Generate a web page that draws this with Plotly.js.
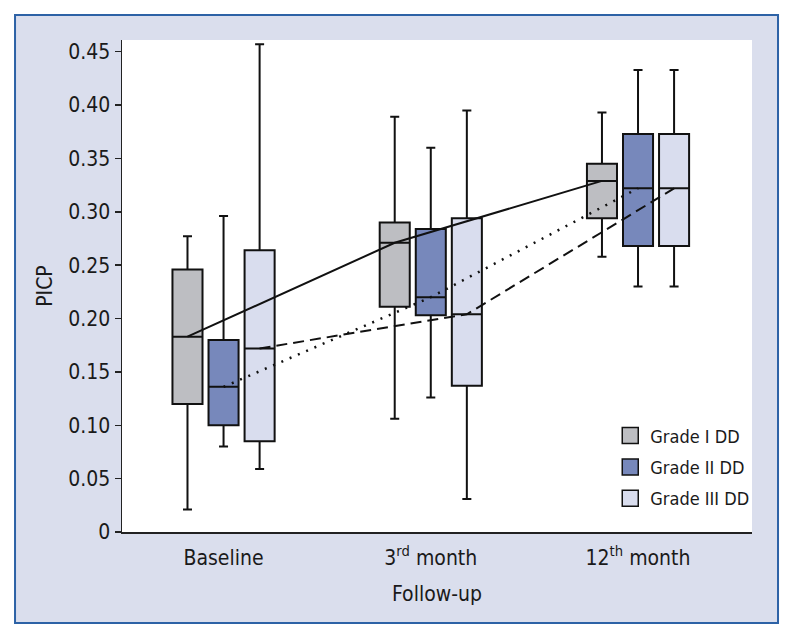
<!DOCTYPE html>
<html>
<head>
<meta charset="utf-8">
<script src="https://cdn.plot.ly/plotly-3.0.1.min.js"></script>
<style>html,body{margin:0;padding:0;background:#fff;}#chart{width:794px;height:640px;}</style>
</head>
<body>
<div id="chart"></div>
<script>
// ---- data ----
var categories = ["Baseline", "3<sup>rd</sup> month", "12<sup>th</sup> month"];
var seriesNames = ["Grade I DD", "Grade II DD", "Grade III DD"];

var g1Lower  = [0.021, 0.106, 0.258];
var g1Q1     = [0.120, 0.211, 0.294];
var g1Median = [0.183, 0.271, 0.329];
var g1Q3     = [0.246, 0.290, 0.345];
var g1Upper  = [0.277, 0.389, 0.393];

var g2Lower  = [0.080, 0.126, 0.230];
var g2Q1     = [0.100, 0.203, 0.268];
var g2Median = [0.136, 0.220, 0.322];
var g2Q3     = [0.180, 0.284, 0.373];
var g2Upper  = [0.296, 0.360, 0.433];

var g3Lower  = [0.059, 0.031, 0.230];
var g3Q1     = [0.085, 0.137, 0.268];
var g3Median = [0.172, 0.204, 0.322];
var g3Q3     = [0.264, 0.294, 0.373];
var g3Upper  = [0.457, 0.395, 0.433];

var yTickVals = [0, 0.05, 0.10, 0.15, 0.20, 0.25, 0.30, 0.35, 0.40, 0.45];
var yTickText = ["0", "0.05", "0.10", "0.15", "0.20", "0.25", "0.30", "0.35", "0.40", "0.45"];

// ---- styling ----
var FONT = "'Liberation Sans Narrow', 'Arial Narrow', 'DejaVu Sans Condensed', 'Liberation Sans', sans-serif";
var fills = ["#bdbec2", "#7788bb", "#d9ddee"];
var dashes = ["solid", "2px,7px", "11px,6px"];
var lineWidths = [2, 2.5, 2];
var offsets = [-0.174, 0, 0.174];
var boxWidth = 0.145;

var groups = [
  {lo: g1Lower, q1: g1Q1, med: g1Median, q3: g1Q3, hi: g1Upper},
  {lo: g2Lower, q1: g2Q1, med: g2Median, q3: g2Q3, hi: g2Upper},
  {lo: g3Lower, q1: g3Q1, med: g3Median, q3: g3Q3, hi: g3Upper}
];

var idx = categories.map(function (c, i) { return i; });
var traces = [];

groups.forEach(function (g, k) {
  var xs = idx.map(function (i) { return i + offsets[k]; });
  traces.push({
    type: "box",
    x: xs,
    q1: g.q1, median: g.med, q3: g.q3,
    lowerfence: g.lo, upperfence: g.hi,
    width: boxWidth,
    whiskerwidth: 0.3,
    fillcolor: fills[k],
    line: {color: "#111111", width: 2},
    showlegend: false,
    hoverinfo: "skip"
  });
});

groups.forEach(function (g, k) {
  var xs = idx.map(function (i) { return i + offsets[k]; });
  traces.push({
    type: "scatter",
    mode: "lines",
    x: xs,
    y: g.med,
    line: {color: "#111111", width: lineWidths[k], dash: dashes[k]},
    showlegend: false,
    hoverinfo: "skip"
  });
});

// legend entries
groups.forEach(function (g, k) {
  traces.push({
    type: "scatter",
    mode: "markers",
    x: [null], y: [null],
    name: seriesNames[k],
    legendgroup: "g" + k,
    marker: {symbol: "square", size: 16, color: fills[k], line: {color: "#111111", width: 1.5}},
    showlegend: true
  });
});

var layout = {
  width: 794, height: 640,
  margin: {l: 122, r: 42, t: 40, b: 108},
  paper_bgcolor: "#ffffff",
  plot_bgcolor: "#ffffff",
  font: {family: FONT, size: 21, color: "#1a1a1a"},
  showlegend: true,
  legend: {
    x: 0.775, y: 0.233, xanchor: "left", yanchor: "top",
    bgcolor: "rgba(255,255,255,0)",
    font: {family: FONT, size: 18, color: "#1a1a1a"},
    tracegroupgap: 5,
    itemwidth: 30
  },
  xaxis: {
    range: [-0.49, 2.55],
    tickmode: "array",
    tickvals: idx,
    ticktext: categories,
    ticks: "",
    showline: true, linecolor: "#222222", linewidth: 2,
    showgrid: false, zeroline: false,
    ticklabelstandoff: 6,
    tickfont: {family: FONT, size: 21, color: "#1a1a1a"},
    title: {text: "Follow-up", font: {family: FONT, size: 21, color: "#1a1a1a"}, standoff: 17}
  },
  yaxis: {
    range: [0, 0.461],
    tickmode: "array",
    tickvals: yTickVals,
    ticktext: yTickText,
    ticks: "outside", ticklen: 6, tickwidth: 1.5, tickcolor: "#222222",
    showline: true, linecolor: "#222222", linewidth: 1.5,
    showgrid: false, zeroline: false,
    tickfont: {family: FONT, size: 21, color: "#1a1a1a"},
    title: {text: "PICP", font: {family: FONT, size: 21, color: "#1a1a1a"}, standoff: 10}
  },
  shapes: [
    {type: "rect", xref: "paper", yref: "paper", layer: "below",
     x0: -0.1698, x1: 1.0413, y0: -0.185, y1: 1.0508,
     fillcolor: "#dadeed", line: {color: "#2d62a6", width: 2}},
    {type: "rect", xref: "paper", yref: "paper", layer: "below",
     x0: 0, x1: 1, y0: 0, y1: 1,
     fillcolor: "#ffffff", line: {width: 0}}
  ]
};

Plotly.newPlot("chart", traces, layout, {displayModeBar: false, staticPlot: true});
</script>
</body>
</html>
